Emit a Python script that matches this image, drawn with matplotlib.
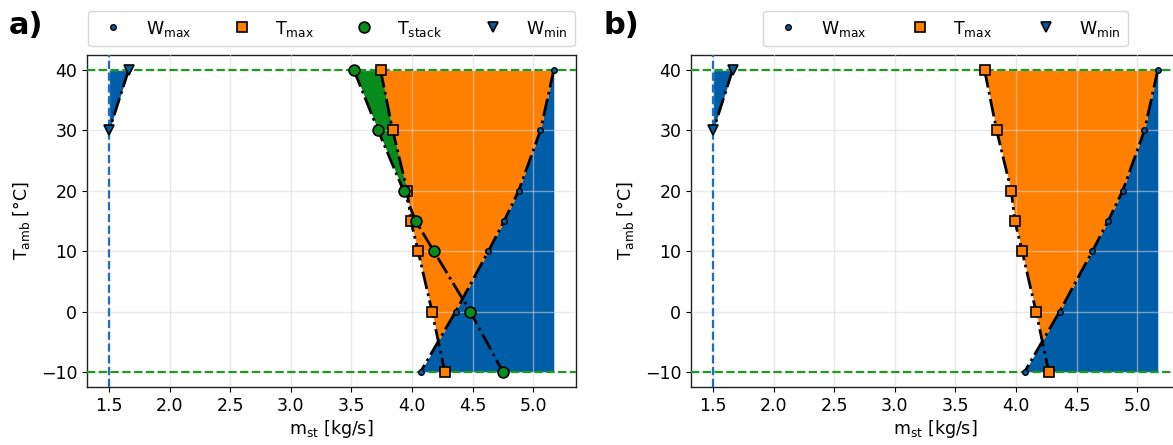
import numpy as np
import matplotlib.pyplot as plt

# ambient temperature levels and mass flow limits
T_amb = [40, 30, 20, 15, 10, 0, -10]
w_max = [5.17, 5.06, 4.88, 4.76, 4.63, 4.36, 4.07]
t_max = [3.74, 3.84, 3.96, 3.99, 4.05, 4.165, 4.27]
t_stack = [3.52, 3.72, 3.93, 4.03, 4.18, 4.48, 4.75]
T_wmin = [40, 30]
w_min = [1.66, 1.5]

m_min_line = 1.5
T_lines = [40, -10]

xticks = [1.5, 2.0, 2.5, 3.0, 3.5, 4.0, 4.5, 5.0]
yticks = [-10, 0, 10, 20, 30, 40]

C_BLUE = '#005ea8'
C_ORANGE = '#ff7f00'
C_GREEN = '#088c1c'
C_DGREEN = '#1e9a1e'
C_VLINE = '#1a6fc0'

plt.rcParams['font.size'] = 12.5
plt.rcParams['mathtext.default'] = 'regular'


def draw_panel(ax, with_stack):
    T = np.array(T_amb, dtype=float)
    wmx = np.array(w_max)
    tmx = np.array(t_max)
    tst = np.array(t_stack)

    # feasible regions
    ax.fill_betweenx(T, wmx, wmx.max(), color=C_BLUE, lw=0, zorder=1)
    ax.fill_betweenx(T, tmx, wmx, where=tmx <= wmx, interpolate=True,
                     color=C_ORANGE, lw=0, zorder=1)
    if with_stack:
        ax.fill_betweenx(T, tst, tmx, where=tst <= tmx, interpolate=True,
                         color=C_GREEN, lw=0, zorder=1)
    ax.fill_betweenx(T_wmin, m_min_line, w_min, color=C_BLUE, lw=0, zorder=1)

    # limit lines
    for t in T_lines:
        ax.axhline(t, color=C_DGREEN, ls='--', lw=1.6, zorder=3)
    ax.axvline(m_min_line, color=C_VLINE, ls='--', lw=1.6, zorder=3)

    # connecting dash-dot lines
    ax.plot(wmx, T, '-.', color='k', lw=2.0, zorder=4)
    ax.plot(tmx, T, '-.', color='k', lw=2.0, zorder=4)
    if with_stack:
        ax.plot(tst, T, '-.', color='k', lw=2.0, zorder=4)
    ax.plot(w_min, T_wmin, '-.', color='k', lw=2.0, zorder=4)

    # markers
    ax.plot(wmx, T, 'o', ls='none', ms=4, mfc=C_BLUE, mec='k', mew=1.0,
            zorder=5, label=r'W$_{max}$')
    ax.plot(tmx, T, 's', ls='none', ms=7.2, mfc=C_ORANGE, mec='k', mew=1.2,
            zorder=5, label=r'T$_{max}$')
    if with_stack:
        ax.plot(tst, T, 'o', ls='none', ms=7.8, mfc=C_GREEN, mec='k', mew=1.2,
                zorder=5, label=r'T$_{stack}$')
    ax.plot(w_min, T_wmin, 'v', ls='none', ms=7.8, mfc=C_BLUE, mec='k', mew=1.2,
            zorder=5, label=r'W$_{min}$')

    ax.set_xlim(1.3165, 5.3535)
    ax.set_ylim(-12.5, 42.5)
    ax.set_xticks(xticks)
    ax.set_yticks(yticks)
    ax.set_axisbelow(False)
    ax.grid(True, color='#d8d8d8', alpha=0.55, lw=1.0)
    ax.set_xlabel(r'm$_{st}$ [kg/s]', labelpad=2)
    ax.set_ylabel(r'T$_{amb}$ [°C]', labelpad=6)
    for s in ax.spines.values():
        s.set_linewidth(1.0)
        s.set_color('#222222')


fig = plt.figure(figsize=(11.73, 4.45), dpi=100)
W, H = 1173, 445
ax_a = fig.add_axes([87 / W, 58 / H, 489 / W, 332 / H])
ax_b = fig.add_axes([691 / W, 58 / H, 489 / W, 332 / H])

draw_panel(ax_a, True)
draw_panel(ax_b, False)

ax_a.legend(loc='lower center', bbox_to_anchor=(0.5, 1.0), ncol=4,
            fontsize=12.5, handletextpad=0.9, columnspacing=1.9, borderpad=0.45)
ax_b.legend(loc='lower center', bbox_to_anchor=(0.52, 1.0), ncol=3,
            fontsize=12.5, handletextpad=0.9, columnspacing=2.1, borderpad=0.45)

fig.text(9 / W, 1 - 26 / H, 'a)', fontsize=22, fontweight='bold', va='center')
fig.text(603 / W, 1 - 26 / H, 'b)', fontsize=22, fontweight='bold', va='center')

fig.savefig('out.png', dpi=100)
